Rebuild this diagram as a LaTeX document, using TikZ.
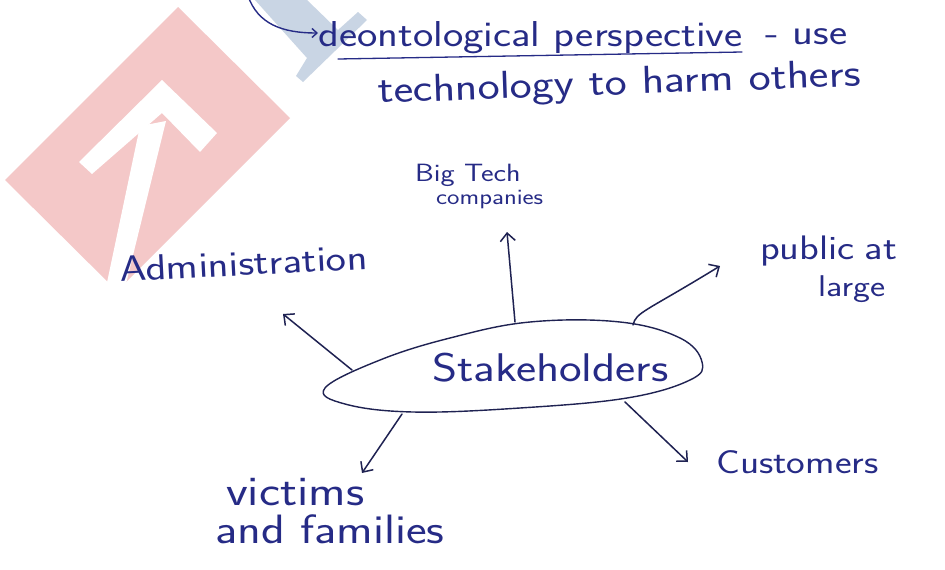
\documentclass[tikz,border=0pt]{standalone}
\usepackage{fontspec}
\setsansfont{lmsans17-regular}[Extension=.otf, FakeStretch=1.2]
\usetikzlibrary{arrows.meta}
\definecolor{inkblue}{HTML}{262B86}
\definecolor{inkline}{HTML}{1F2252}
\definecolor{markpink}{HTML}{F4C8C8}
\definecolor{markblue}{HTML}{C9D5E4}
\newcommand\hwsize[1]{\fontsize{#1}{#1}\selectfont}
\begin{document}
\begin{tikzpicture}[x=1pt,y=-1pt,
  ink/.style={draw=inkline, line width=1.5pt, line cap=round, line join=round},
  barb/.style={ink, -{Straight Barb[length=8pt,width=15pt,line width=1.5pt]}},
  lbl/.style={text=inkblue, inner sep=0pt, anchor=base west, font=\sffamily}]
\useasboundingbox (0,0) rectangle (945,570);
\fill[white] (0,0) rectangle (945,570);

% faint logo marks in the background
\fill[markpink] (5,180) -- (178,7) -- (290,118) -- (117,291) -- cycle;
\fill[white] (162,80) -- (217,133) -- (200,152) -- (162,113) -- (92,174) -- (79,162) -- cycle;
\fill[white] (140,126) -- (166,121) -- (124,292) -- (105,292) -- cycle;
\fill[markblue] (255,0) -- (307,0) -- (338,30) -- (358,12) -- (367,20) -- (303,82) -- (296,76) -- (307,58) -- cycle;

% heading
\coordinate (hstart) at (248,-4);
\node[lbl] (deon) at (318,46) {\hwsize{36}deontological perspective};
\node[lbl] (use) at (765,44) {\hwsize{36}-\hspace{14pt}use};
\node[lbl, rotate=2] (harm) at (378,103) {\hwsize{39}technology to harm others};
\draw[inkblue, line width=1.4pt, -{Straight Barb[length=5pt,width=9pt,line width=1.4pt]}]
  (hstart) .. controls (258,24) and (282,33) .. (deon.base west |- 0,33);
\draw[ink, draw=inkblue, line width=1.3pt] (338,59) -- (742,52);

% central blob
\draw[ink, line width=1.4pt] plot[smooth cycle, tension=0.65] coordinates {
  (325,388) (380,360) (450,338) (530,322) (620,322) (680,338) (702,362)
  (690,380) (627,398) (520,408) (413,412) (345,404)};
\node[lbl] (stake) at (432,381) {\hwsize{40}Stakeholders};

% stakeholder groups
\node[lbl, rotate=3] (admin) at (120,282) {\hwsize{36}Administration};
\node[lbl] (big) at (415,181) {\hwsize{25}Big Tech};
\node[lbl] (comp) at (436,204) {\hwsize{22}companies};
\node[lbl] (pub) at (760,259) {\hwsize{34}public\hspace{10pt}at};
\node[lbl] (large) at (818,296) {\hwsize{30}large};
\node[lbl] (cust) at (716,473) {\hwsize{33}Customers};
\node[lbl] (vict) at (226,505) {\hwsize{42}victims};
\node[lbl] (fam) at (215,543) {\hwsize{41}and families};

% attachment points on the blob
\coordinate (sA) at (352,370);
\coordinate (sB) at (515,322);
\coordinate (sP) at (633,325);
\coordinate (sC) at (625,402);
\coordinate (sV) at (402,414);
% arrow tips
\coordinate (tA) at (283,314);
\coordinate (tB) at (507,232);
\coordinate (tP) at (720,266);
\coordinate (tC) at (688,462);
\coordinate (tV) at (362,473);

\draw[barb] (sA) -- (tA);
\draw[barb] (sB) -- (tB);
\draw[barb] (sP) .. controls (636,312) and (645,312) .. (tP);
\draw[barb] (sC) -- (tC);
\draw[barb] (sV) -- (tV);
\end{tikzpicture}
\end{document}
